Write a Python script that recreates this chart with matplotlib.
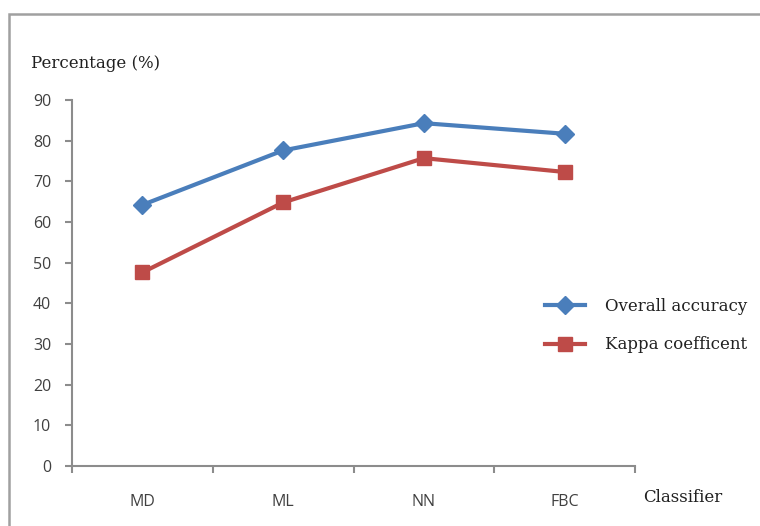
import matplotlib.pyplot as plt
from matplotlib.patches import Rectangle
import numpy as np

# Dados por classificador
classificadores = ['MD', 'ML', 'NN', 'FBC']
overall_accuracy = [64.2, 77.6, 84.3, 81.7]
kappa = [47.6, 64.8, 75.7, 72.3]

cor_azul = '#4A7EBB'
cor_vermelho = '#BE4B48'
cinza = '#8C8C8C'
fonte_serif = 'DejaVu Serif'

fig = plt.figure(figsize=(7.6, 5.26), dpi=100)
ax = fig.add_axes([72 / 760, 60 / 526, 563 / 760, 366 / 526])

# moldura da área do gráfico (sai pela direita e por baixo)
fig.patches.append(Rectangle((8.5 / 760, -0.1), 1.2, 1 - 13.5 / 526 + 0.1,
                             transform=fig.transFigure, fill=False,
                             edgecolor='#A0A0A0', linewidth=1.8, clip_on=False))

x = np.arange(len(classificadores))
ax.plot(x, overall_accuracy, color=cor_azul, linewidth=3, marker='D',
        markersize=9.5, label='Overall accuracy')
ax.plot(x, kappa, color=cor_vermelho, linewidth=3, marker='s',
        markersize=10.5, label='Kappa coefficent')

ax.set_xlim(-0.5, len(classificadores) - 0.5)
ax.set_ylim(0, 90)
ax.set_yticks(np.arange(0, 91, 10))

# ticks nas divisões das categorias, rótulos no centro
ax.set_xticks(np.arange(-0.5, len(classificadores), 1))
ax.set_xticklabels([])
ax.set_xticks(x, minor=True)
ax.set_xticklabels(classificadores, minor=True)
ax.tick_params(axis='x', which='minor', length=0, pad=20)

for s in ['top', 'right']:
    ax.spines[s].set_visible(False)
for s in ['left', 'bottom']:
    ax.spines[s].set_color(cinza)
    ax.spines[s].set_linewidth(1.5)

ax.tick_params(axis='both', which='major', color=cinza, width=1.5, length=5,
               direction='out')
ax.tick_params(axis='y', pad=10)
for lbl in ax.get_yticklabels() + ax.get_xticklabels(minor=True):
    lbl.set_fontfamily('Open Sans')
    lbl.set_fontsize(11.5)
    lbl.set_color('#404040')

fig.text(31 / 760, 1 - 64 / 526, 'Percentage (%)', family=fonte_serif,
         fontsize=12, ha='left', va='center', color='#202020')
fig.text(643 / 760, 1 - 498 / 526, 'Classifier', family=fonte_serif,
         fontsize=12, ha='left', va='center', color='#202020')

leg = fig.legend(*ax.get_legend_handles_labels(), loc='center left',
                 bbox_to_anchor=(545 / 760, 1 - 325.5 / 526), frameon=False,
                 prop={'family': fonte_serif, 'size': 12},
                 borderpad=0, borderaxespad=0,
                 handlelength=2.4, handletextpad=1.2, labelspacing=1.3)
for t in leg.get_texts():
    t.set_color('#202020')

fig.savefig('out.png', dpi=100)
